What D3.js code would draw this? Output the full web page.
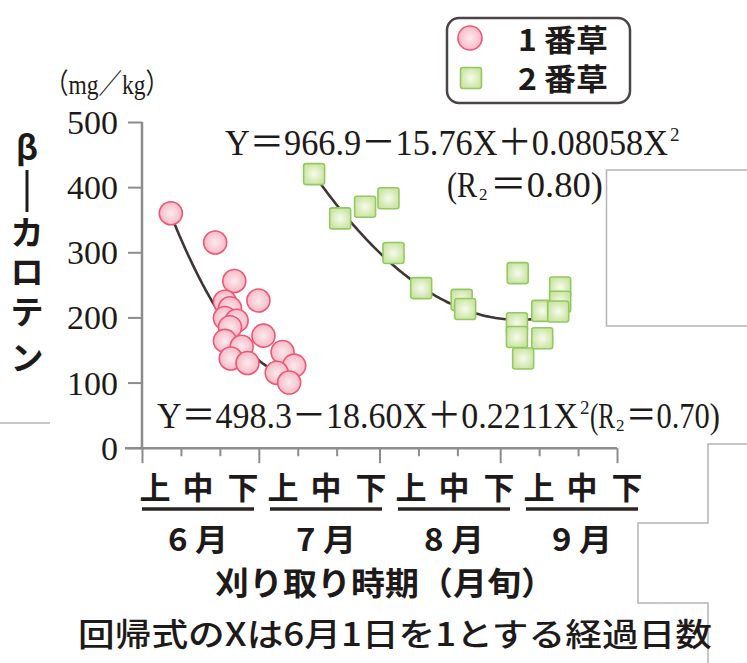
<!DOCTYPE html>
<html>
<head>
<meta charset="utf-8">
<script src="https://cdn.jsdelivr.net/npm/d3@7/dist/d3.min.js"></script>
<style>
  html, body { margin: 0; padding: 0; background: #fff; }
  svg { display: block; }
</style>
</head>
<body>
<svg id="chart" width="747" height="663"></svg>
<script>
// β-カロテン content (mg/kg) by harvest day; X = days elapsed, June 1 = 1
const firstCutX = [8.4, 19.8, 24.7, 30.9, 22.3, 23.6, 22.3, 25.3, 23.6, 32.2, 22.3, 26.6, 23.8, 28.1, 37.1, 40.1, 35.6, 38.8];
const firstCutY = [360, 315, 256, 226, 224, 214, 199, 195, 185, 172, 164, 155, 137, 130, 147, 126, 115, 100];
const secondCutX = [45.2, 51.9, 58.3, 64.3, 65.6, 72.7, 83.1, 84.0, 97.5, 97.3, 97.3, 98.9, 103.8, 103.8, 108.4, 108.4, 107.9];
const secondCutY = [420, 352, 370, 383, 299, 245, 227, 213, 268, 191, 170, 137, 168, 210, 246, 224, 209];

// quadratic regression coefficients [a, b, c] for Y = a + bX + cX²
const firstCutFit = [498.3, -18.60, 0.2211];
const secondCutFit = [966.9, -15.76, 0.08058];
const firstCutRange = [8.4, 39];
const secondCutRange = [45.2, 108];

const seriesNames = ["1 番草", "2 番草"];
const yTicks = [0, 100, 200, 300, 400, 500];
const dekadStarts = [1, 11, 21, 31, 41, 51, 62, 72, 82, 93, 103, 113, 123];
const monthStarts = [1, 31, 62, 93, 123];
const months = ["6 月", "7 月", "8 月", "9 月"];
const dekadNames = ["上", "中", "下"];

const svg = d3.select("#chart");
const ink = "#1e1a1a";
const axisGray = "#8c8c8c";
const cjk = "'Noto Sans CJK JP', 'Noto Sans', sans-serif";
const serif = "'Liberation Serif', 'DejaVu Serif', 'Noto Sans CJK JP', serif";

const x = d3.scaleLinear().domain([1, 123]).range([142, 617]);
const y = d3.scaleLinear().domain([0, 500]).range([447.7, 122]);

// stray frame lines around the figure
const frame = svg.append("g").attr("fill", "none").attr("stroke", "#b4b4b4").attr("stroke-width", 1.5);
frame.append("path").attr("d", "M0,423H50");
frame.append("path").attr("d", "M747,170H606.5V326H747");
frame.append("path").attr("d", "M747,444H708V523H638V603H708V663");

// gradients for markers
const defs = svg.append("defs");
const pg = defs.append("radialGradient").attr("id", "pinkFill");
pg.append("stop").attr("offset", "0%").attr("stop-color", "#fcebef");
pg.append("stop").attr("offset", "100%").attr("stop-color", "#f6b9c6");
const gg = defs.append("radialGradient").attr("id", "greenFill");
gg.append("stop").attr("offset", "0%").attr("stop-color", "#f6fbee");
gg.append("stop").attr("offset", "100%").attr("stop-color", "#cde6a6");

// y axis
const yAxis = svg.append("g")
  .attr("transform", `translate(${x.range()[0]},0)`)
  .call(d3.axisLeft(y).tickValues(yTicks).tickSize(14).tickPadding(10).tickFormat(d3.format("d")));
yAxis.select(".domain").attr("stroke", axisGray).attr("stroke-width", 2.5)
  .attr("d", `M0,${y(500)}V${y(0) + 1}`);
yAxis.selectAll(".tick line").attr("stroke", axisGray).attr("stroke-width", 2);
yAxis.selectAll(".tick text")
  .attr("fill", ink).attr("font-family", serif).attr("font-size", 34)
  .attr("dy", "0.34em");

// x axis with dekad ticks, longer at month boundaries
const xAxis = svg.append("g")
  .attr("transform", `translate(0,${y(0) + 0.5})`)
  .call(d3.axisBottom(x).tickValues(dekadStarts).tickSize(8).tickFormat(""));
xAxis.select(".domain").attr("stroke", axisGray).attr("stroke-width", 2.5)
  .attr("d", `M125,0H${x(123)}`);
xAxis.selectAll(".tick line").attr("stroke", axisGray).attr("stroke-width", 2)
  .attr("y2", d => monthStarts.includes(d) ? 15 : 8);

// regression curves
const line = d3.line().x(d => x(d[0])).y(d => y(d[1])).curve(d3.curveLinear);
function fitPoints(coef, range) {
  const n = 120, pts = [];
  for (let i = 0; i <= n; i++) {
    const X = range[0] + (range[1] - range[0]) * i / n;
    pts.push([X, coef[0] + coef[1] * X + coef[2] * X * X]);
  }
  return pts;
}
[[firstCutFit, firstCutRange], [secondCutFit, secondCutRange]].forEach(([c, r]) => {
  svg.append("path").datum(fitPoints(c, r))
    .attr("d", line).attr("fill", "none")
    .attr("stroke", "#3e3636").attr("stroke-width", 2.6);
});

// 2番草 squares
const sq = 21;
svg.append("g").selectAll("rect").data(d3.range(secondCutX.length)).join("rect")
  .attr("x", i => x(secondCutX[i]) - sq / 2).attr("y", i => y(secondCutY[i]) - sq / 2)
  .attr("width", sq).attr("height", sq).attr("rx", 2.5)
  .attr("fill", "url(#greenFill)").attr("stroke", "#94c862").attr("stroke-width", 1.6);

// 1番草 circles
svg.append("g").selectAll("circle").data(d3.range(firstCutX.length)).join("circle")
  .attr("cx", i => x(firstCutX[i])).attr("cy", i => y(firstCutY[i])).attr("r", 11.5)
  .attr("fill", "url(#pinkFill)").attr("stroke", "#ec5775").attr("stroke-width", 1.6);

// regression equations: each piece is its own text run
const eq = svg.append("g").attr("font-family", serif).attr("fill", ink);
function run(px, py, str, size, len) {
  const t = eq.append("text").attr("x", px).attr("y", py).attr("font-size", size).text(str);
  if (len) t.attr("textLength", len).attr("lengthAdjust", "spacingAndGlyphs");
}
function coefText(c) {
  return `Y＝${c[0]}－${Math.abs(c[1]).toFixed(2)}X＋${c[2]}X`;
}
run(225, 155, coefText(secondCutFit), 36, 443);
run(670, 141, "2", 19);
run(447, 197, "(R", 36, 30);
run(479, 200, "2", 17);
run(490, 197, "＝0.80)", 36, 113);

run(157, 428, coefText(firstCutFit), 36, 421);
run(580, 414, "2", 19);
run(590, 428, "(R", 36, 25);
run(616, 431, "2", 17);
run(626, 428, "＝0.70)", 36, 94);

// month / dekad labels
const band = d3.scaleBand().domain(months).range([134, 646]);
const lab = svg.append("g").attr("fill", ink).attr("font-family", cjk);
months.forEach(m => {
  const cx = band(m) + band.bandwidth() / 2;
  const offs = [-43, 0, 45];
  dekadNames.forEach((d, i) => {
    lab.append("text").attr("x", cx + offs[i]).attr("y", 499).attr("text-anchor", "middle")
      .attr("font-size", 31).attr("font-weight", 700).text(d);
  });
  lab.append("line").attr("x1", cx - 56).attr("x2", cx + 56).attr("y1", 509).attr("y2", 509)
    .attr("stroke", "#2a2424").attr("stroke-width", 3.5);
  lab.append("text").attr("x", cx).attr("y", 551).attr("text-anchor", "middle")
    .attr("font-size", 31).attr("font-weight", 700)
    .attr("textLength", 60).attr("lengthAdjust", "spacingAndGlyphs").text(m);
});

// axis titles
lab.append("text").attr("x", 385).attr("y", 595).attr("text-anchor", "middle")
  .attr("font-size", 32).attr("font-weight", 700)
  .attr("textLength", 340).attr("lengthAdjust", "spacingAndGlyphs").text("刈り取り時期（月旬）");
lab.append("text").attr("x", 395).attr("y", 646).attr("text-anchor", "middle")
  .attr("font-size", 32).attr("font-weight", 500)
  .attr("textLength", 634).attr("lengthAdjust", "spacingAndGlyphs").text("回帰式のXは6月1日を1とする経過日数");
lab.append("text").attr("x", 107).attr("y", 94).attr("text-anchor", "middle")
  .attr("font-family", serif).attr("font-size", 28)
  .attr("textLength", 124).attr("lengthAdjust", "spacingAndGlyphs").text("（mg／kg）");

// vertical y title
const vt = [["β", 148], ["カ", 233], ["ロ", 272], ["テ", 312], ["ン", 358]];
vt.forEach(([ch, cy]) => {
  lab.append("text").attr("x", 27).attr("y", cy).attr("dy", "0.36em").attr("text-anchor", "middle")
    .attr("font-size", 33).attr("font-weight", 700).text(ch);
});
lab.append("line").attr("x1", 27).attr("x2", 27).attr("y1", 170).attr("y2", 212)
  .attr("stroke", ink).attr("stroke-width", 3);

// legend
const lg = svg.append("g");
lg.append("rect").attr("x", 447).attr("y", 18).attr("width", 183).attr("height", 85).attr("rx", 12)
  .attr("fill", "#fff").attr("stroke", "#4a4444").attr("stroke-width", 2.5);
lg.append("circle").attr("cx", 470).attr("cy", 38).attr("r", 12)
  .attr("fill", "url(#pinkFill)").attr("stroke", "#ec5775").attr("stroke-width", 1.6);
lg.append("rect").attr("x", 471 - sq / 2).attr("y", 78 - sq / 2).attr("width", sq).attr("height", sq).attr("rx", 2.5)
  .attr("fill", "url(#greenFill)").attr("stroke", "#94c862").attr("stroke-width", 1.6);
seriesNames.forEach((s, i) => {
  lg.append("text").attr("x", 518).attr("y", 51 + i * 39)
    .attr("font-family", cjk).attr("font-size", 30).attr("font-weight", 700).attr("fill", ink)
    .attr("textLength", 90).attr("lengthAdjust", "spacingAndGlyphs").text(s);
});
</script>
</body>
</html>
